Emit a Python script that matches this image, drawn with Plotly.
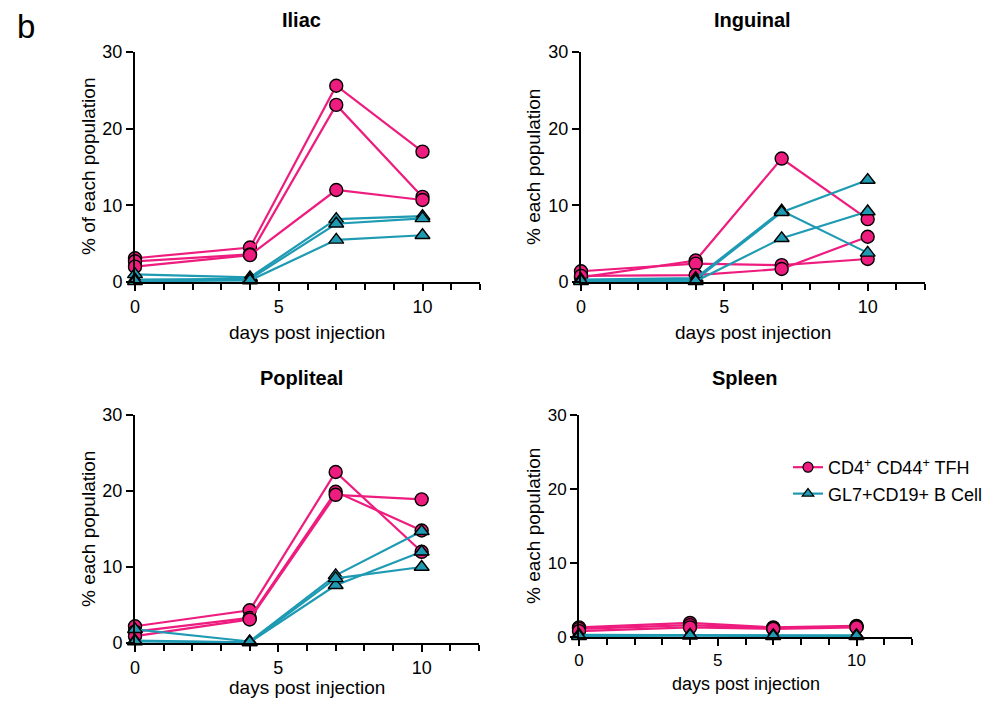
import plotly.graph_objects as go

W, H = 988, 707
days = [0, 4, 7, 10]

panels = ["Iliac", "Inguinal", "Popliteal", "Spleen"]
y_titles = ["% of each population", "% each population", "% each population", "% each population"]

iliac_tfh = [[3.1, 4.5, 25.6, 17.0], [2.7, 3.6, 23.1, 11.1], [2.0, 3.5, 12.0, 10.7]]
iliac_b = [[1.0, 0.6, 8.2, 8.6], [0.3, 0.4, 7.6, 8.3], [0.1, 0.2, 5.5, 6.1]]

inguinal_tfh = [[0.6, 2.8, 16.1, 8.2], [1.4, 2.4, 2.2, 3.0], [0.8, 0.9, 1.7, 5.9]]
inguinal_b = [[0.3, 0.5, 9.3, 3.8], [0.2, 0.3, 9.1, 13.3], [0.1, 0.1, 5.7, 9.2]]

popliteal_tfh = [[2.2, 4.3, 22.5, 12.0], [1.5, 3.3, 19.9, 14.8], [0.9, 3.1, 19.5, 18.9]]
popliteal_b = [[1.8, 0.2, 8.9, 14.7], [0.3, 0.1, 7.6, 12.0], [0.2, 0.1, 8.5, 10.0]]

spleen_tfh = [[1.3, 1.9, 1.3, 1.5], [1.1, 1.6, 1.2, 1.4], [0.8, 1.3, 1.1, 1.3]]
spleen_b = [[0.3, 0.3, 0.2, 0.2], [0.2, 0.2, 0.2, 0.2], [0.1, 0.2, 0.1, 0.1]]

tfh_data = [iliac_tfh, inguinal_tfh, popliteal_tfh, spleen_tfh]
b_data = [iliac_b, inguinal_b, popliteal_b, spleen_b]

series_names = ["CD4<sup>+</sup> CD44<sup>+</sup> TFH", "GL7+CD19+ B Cell"]

x_ticks = [0, 5, 10]
y_ticks = [0, 10, 20, 30]

PINK = "#EE1C7E"
TEAL = "#1E9AB3"
FONT = "Liberation Sans, Arial, Helvetica, sans-serif"

# pixel boxes of plot areas: (x0, x1, ytop, ybottom)
boxes = [(135, 480, 52, 282), (581, 925, 52, 282), (135, 479, 415, 643), (579, 912, 415, 637)]
tick_sizes = [18, 18, 18, 17]

fig = go.Figure()

def px(x):
    return x / W

def py(y):
    return 1 - y / H

for i, (name, box) in enumerate(zip(panels, boxes)):
    ax = "" if i == 0 else str(i + 1)
    x0, x1, yt, yb = box
    fig.layout["xaxis" + ax] = dict(
        domain=[px(x0), px(x1)], range=[0, 12], anchor="y" + ax,
        tickvals=x_ticks, ticks="outside", ticklen=7, tickwidth=2, tickcolor="black",
        showline=True, linewidth=2, linecolor="black", showgrid=False, zeroline=False,
        tickfont=dict(size=tick_sizes[i], color="black", family=FONT),
        minor=dict(dtick=1, tick0=0, ticks="outside", ticklen=6, tickwidth=2, tickcolor="black", showgrid=False),
        fixedrange=True, automargin=False,
    )
    fig.layout["yaxis" + ax] = dict(
        domain=[py(yb), py(yt)], range=[0, 30], anchor="x" + ax,
        tickvals=y_ticks, ticks="outside", ticklen=7, tickwidth=2, tickcolor="black",
        showline=True, linewidth=2, linecolor="black", showgrid=False, zeroline=False,
        tickfont=dict(size=tick_sizes[i], color="black", family=FONT),
        fixedrange=True, automargin=False,
    )
    xa = "x" + ax
    ya = "y" + ax
    for ys in tfh_data[i]:
        fig.add_trace(go.Scatter(
            x=days, y=ys, xaxis=xa, yaxis=ya, mode="lines+markers", cliponaxis=False,
            line=dict(color=PINK, width=2.2),
            marker=dict(symbol="circle", size=13, color=PINK, line=dict(color="black", width=1.4)),
            name=series_names[0], showlegend=False,
        ))
    for ys in b_data[i]:
        fig.add_trace(go.Scatter(
            x=days, y=ys, xaxis=xa, yaxis=ya, mode="lines+markers", cliponaxis=False,
            line=dict(color=TEAL, width=2.2),
            marker=dict(symbol="triangle-up", size=13, color=TEAL, line=dict(color="black", width=1.4)),
            name=series_names[1], showlegend=False,
        ))

# legend entries (smaller symbols, as in the reference legend)
fig.add_trace(go.Scatter(x=[None], y=[None], xaxis="x4", yaxis="y4", mode="lines+markers",
                         line=dict(color=PINK, width=2.2),
                         marker=dict(symbol="circle", size=10, color=PINK, line=dict(color="black", width=1.2)),
                         name=series_names[0], showlegend=True))
fig.add_trace(go.Scatter(x=[None], y=[None], xaxis="x4", yaxis="y4", mode="lines+markers",
                         line=dict(color=TEAL, width=2.2),
                         marker=dict(symbol="triangle-up", size=10, color=TEAL, line=dict(color="black", width=1.2)),
                         name=series_names[1], showlegend=True))

annotations = []
title_pos = [(301, 20), (752, 20), (301, 378), (745, 378)]
for name, (tx, ty) in zip(panels, title_pos):
    annotations.append(dict(text="<b>" + name + "</b>", x=px(tx), y=py(ty), xref="paper", yref="paper",
                            xanchor="center", yanchor="middle",
                            showarrow=False, font=dict(size=20, color="black", family=FONT)))
xt_pos = [(307, 332), (753, 332), (307, 687), (746, 684)]
xt_sizes = [19, 19, 19, 18]
for (tx, ty), s in zip(xt_pos, xt_sizes):
    annotations.append(dict(text="days post injection", x=px(tx), y=py(ty), xref="paper", yref="paper",
                            xanchor="center", yanchor="middle",
                            showarrow=False, font=dict(size=s, color="black", family=FONT)))
yt_pos = [(88, 167), (533, 167), (88, 529), (533, 526)]
for t, (tx, ty) in zip(y_titles, yt_pos):
    annotations.append(dict(text=t, x=px(tx), y=py(ty), xref="paper", yref="paper", textangle=-90,
                            xanchor="center", yanchor="middle",
                            showarrow=False, font=dict(size=19, color="black", family=FONT)))
annotations.append(dict(text="b", x=px(26), y=py(27), xref="paper", yref="paper",
                        xanchor="center", yanchor="middle",
                        showarrow=False, font=dict(size=33, color="black", family=FONT)))

fig.update_layout(
    width=W, height=H, margin=dict(l=0, r=0, t=0, b=0, pad=0, autoexpand=False),
    paper_bgcolor="white", plot_bgcolor="white",
    annotations=annotations,
    legend=dict(x=px(788), y=py(449), xanchor="left", yanchor="top",
                font=dict(size=18, color="black", family=FONT), bgcolor="rgba(0,0,0,0)",
                itemwidth=30, tracegroupgap=0),
    showlegend=True,
)

fig.write_html("out.html")
